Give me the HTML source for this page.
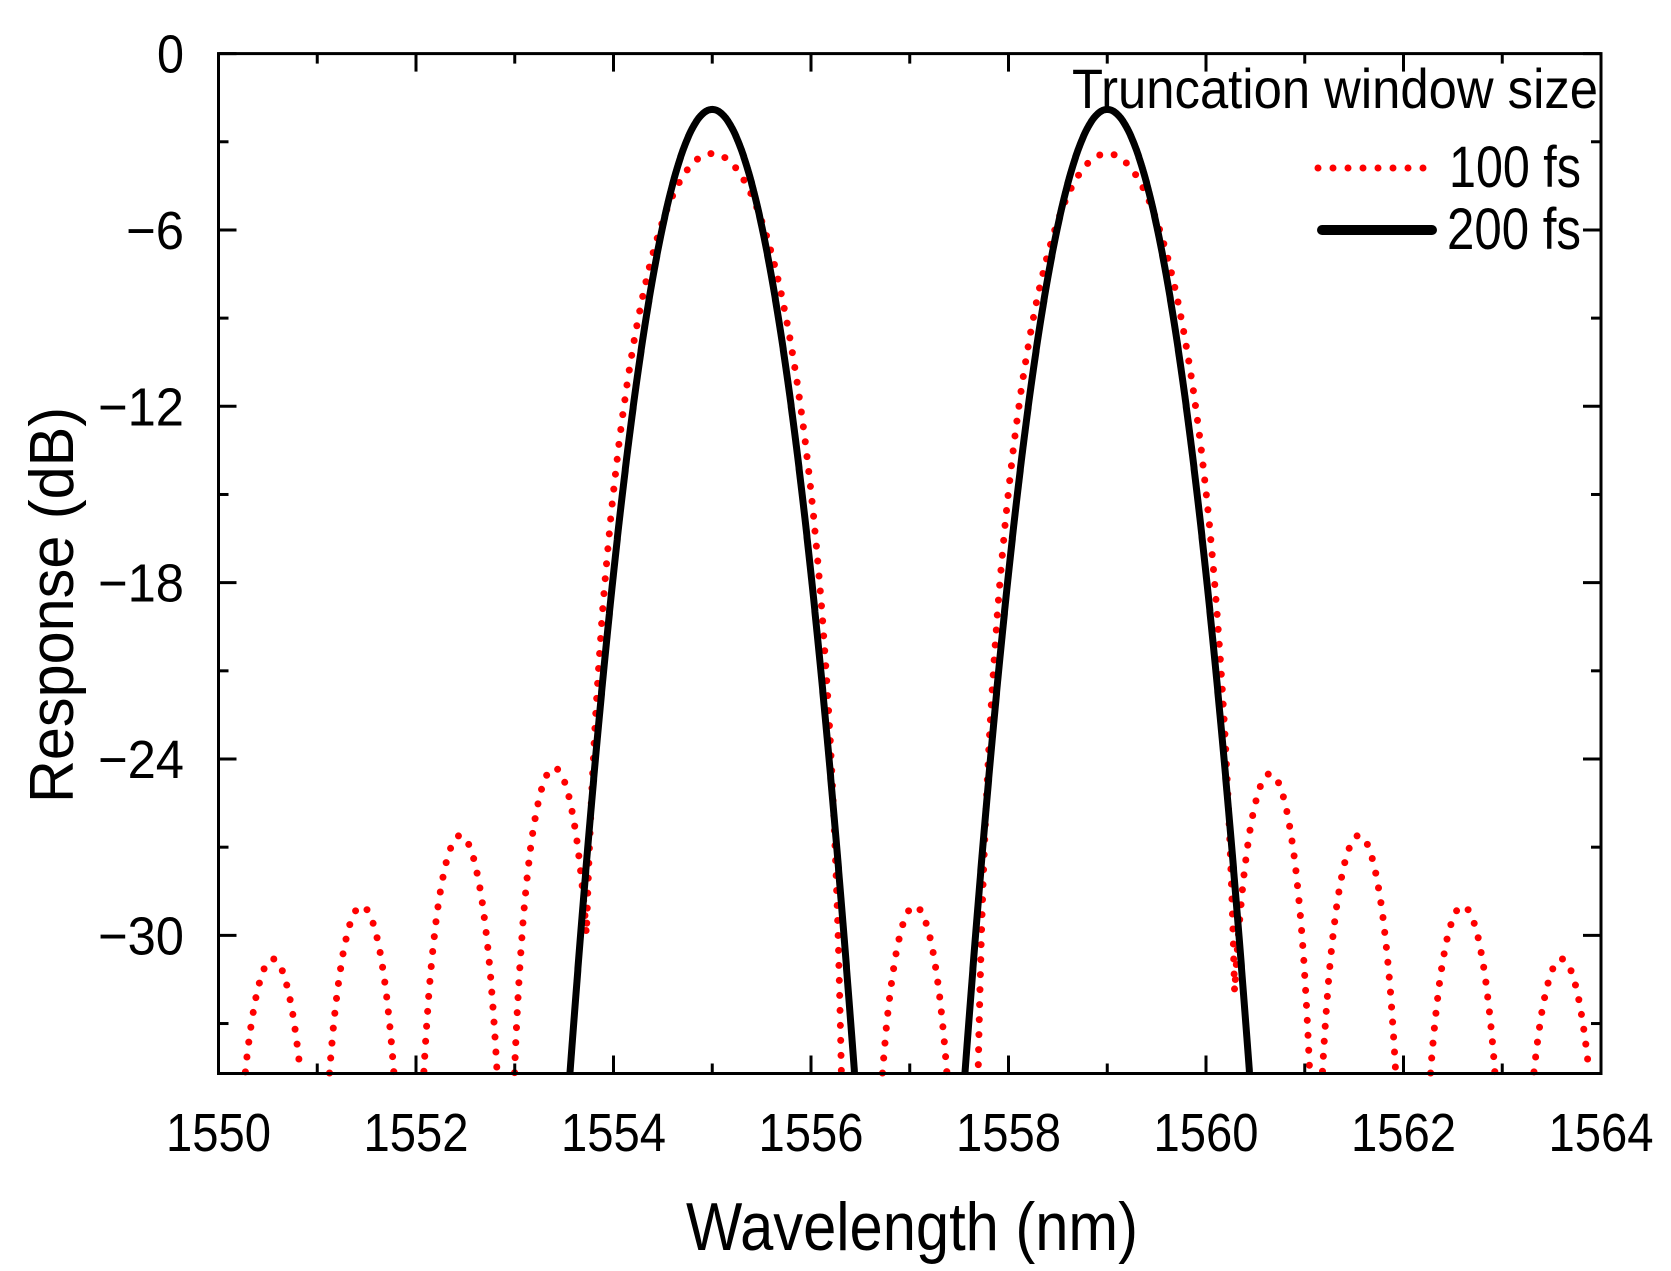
<!DOCTYPE html>
<html><head><meta charset="utf-8"><style>
html,body{margin:0;padding:0;background:#fff;}
svg{display:block;}
text{font-family:"Liberation Sans",Arial,sans-serif;fill:#000;}
</style></head><body>
<svg id="s" width="1671" height="1271" viewBox="0 0 1671 1271" xmlns="http://www.w3.org/2000/svg">
<g id="plot"></g>
<g id="axes" stroke="#000" stroke-width="3" fill="none"></g>
<g font-size="54" id="labels"></g>
<text x="686" y="1250" font-size="68" textLength="452" lengthAdjust="spacingAndGlyphs">Wavelength (nm)</text>
<text transform="translate(73,605) rotate(-90)" font-size="62" text-anchor="middle" textLength="396" lengthAdjust="spacingAndGlyphs">Response (dB)</text>
<text x="1072" y="108" font-size="56" textLength="526" lengthAdjust="spacingAndGlyphs">Truncation window size</text>
<line x1="1318" y1="168" x2="1425" y2="168" stroke="#f00" stroke-width="7" stroke-linecap="round" stroke-dasharray="0 15"/>
<text x="1449" y="187" font-size="58" textLength="132" lengthAdjust="spacingAndGlyphs">100 fs</text>
<line x1="1322" y1="230" x2="1432" y2="230" stroke="#000" stroke-width="10" stroke-linecap="round"/>
<text x="1447" y="249" font-size="58" textLength="134" lengthAdjust="spacingAndGlyphs">200 fs</text>
</svg>
<script>
var L=218.5,R=1601,T=53.6,B=1073.5,X0=1550,X1=1564,Y0=0,Y1=-34.7;
function px(x){return L+(x-X0)/(X1-X0)*(R-L);}
function py(y){return T+(Y0-y)/(Y0-Y1)*(B-T);}
var ns="http://www.w3.org/2000/svg";
function el(p,t,a){var e=document.createElementNS(ns,t);for(var k in a)e.setAttribute(k,a[k]);p.appendChild(e);return e;}
var plot=document.getElementById('plot'),axes=document.getElementById('axes'),lab=document.getElementById('labels');
function black(l){var m=Infinity;[1555,1559].forEach(function(c){m=Math.min(m,Math.abs(l-c));});
  return -1.9-15.8*m*m;}
var sl=[[1550.55,-30.8],[1551.45,-29.0],[1552.45,-26.6],[1553.4,-24.3],[1557.05,-29.0],[1560.65,-24.5],[1561.55,-26.6],[1562.6,-29.0],[1563.6,-30.8]];
function red(l){var v=-200;[1555,1559].forEach(function(c){var d=Math.abs(l-c);var q=1-Math.pow(d/1.36,4);
  if(q>0){v=Math.max(v,-3.4-8.5*d*d+20*Math.log10(q));}});
  sl.forEach(function(s){var d=l-s[0];if(Math.abs(d)<0.5){v=Math.max(v,s[1]+20*Math.log10(Math.cos(Math.PI*d)));}});
  return v;}
function segs(f,step){var out=[],cur=null;for(var l=X0;l<=X1+1e-9;l+=step){var y=f(l);
  if(y>Y1){if(!cur){cur=[];out.push(cur);}cur.push([px(l),py(y)]);}else{if(cur){cur.push([px(l),py(Y1)]);}cur=null;}}
  return out;}
function draw(f,attrs){segs(f,0.002).forEach(function(s){
  var d='';s.forEach(function(p,i){d+=(i?'L':'M')+p[0].toFixed(1)+' '+p[1].toFixed(1);});
  var a=Object.assign({d:d,fill:'none'},attrs);el(plot,'path',a);});}
draw(red,{stroke:'#f00','stroke-width':7,'stroke-linecap':'round','stroke-dasharray':'0 15'});
draw(black,{stroke:'#000','stroke-width':7,'stroke-linejoin':'round'});
el(axes,'rect',{x:L,y:T,width:R-L,height:B-T});
for(var x=1550;x<=1564;x++){var maj=x%2==0,len=maj?18:10,X=px(x);
  el(axes,'line',{x1:X,y1:B,x2:X,y2:B-len});el(axes,'line',{x1:X,y1:T,x2:X,y2:T+len});
  if(maj){var t=el(lab,'text',{x:X,y:1151,'text-anchor':'middle',textLength:105,lengthAdjust:'spacingAndGlyphs'});t.textContent=x;}}
for(var y=0;y>=-33;y-=3){var maj=y%6==0,len=maj?18:10,Y=py(y);
  el(axes,'line',{x1:L,y1:Y,x2:L+len,y2:Y});el(axes,'line',{x1:R,y1:Y,x2:R-len,y2:Y});
  if(maj){var a={x:184,y:Y+19,'text-anchor':'end',lengthAdjust:'spacingAndGlyphs'};
    a.textLength=(y==0)?27:(y==-6?58:86);
    var t=el(lab,'text',a);t.textContent=y==0?'0':'\u2212'+(-y);}}
</script>
</body></html>
